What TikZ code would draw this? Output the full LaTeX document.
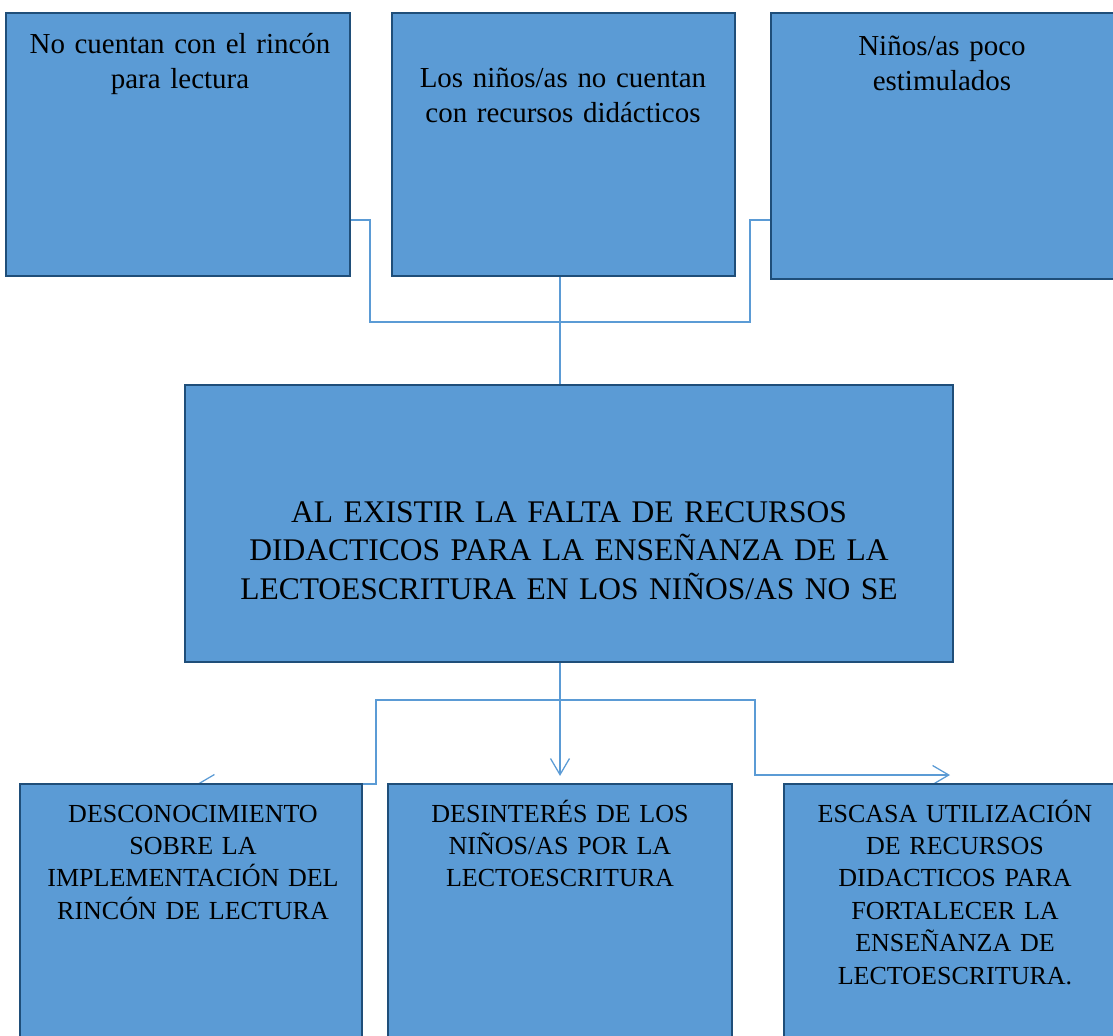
\documentclass[tikz,border=0pt]{standalone}
\usepackage{fontspec}
\setmainfont{Liberation Serif}
\usetikzlibrary{arrows.meta,fit,backgrounds}
\definecolor{relleno}{HTML}{5B9BD5}
\definecolor{borde}{HTML}{1F4E79}
\definecolor{linea}{HTML}{5B9BD5}

\begin{document}
\begin{tikzpicture}[x=0.025cm, y=-0.025cm,
    caja/.style={draw=borde, line width=1.5pt, fill=relleno, inner sep=0pt},
    textocausa/.style={anchor=base, align=center, text width=8.3cm, inner sep=0pt,
        font=\fontsize{20.6}{25.5}\selectfont},
    textoproblema/.style={anchor=base, align=center, text width=20cm, inner sep=0pt,
        font=\fontsize{22.4}{27.4}\selectfont},
    textoefecto/.style={anchor=base, align=center, text width=8.3cm, inner sep=0pt,
        font=\fontsize{18.5}{23.1}\selectfont},
    conector/.style={draw=linea, line width=0.9pt},
    flecha/.style={conector, -{Straight Barb[length=11.5pt, width=13.5pt]}}]
    \useasboundingbox (0,0) rectangle (1113,1035);

    % Causas
    \node[caja, fit={(6,13) (350,276)}] (a) {};
    \node[caja, fit={(392,13) (735,276)}] (b) {};
    \node[caja, fit={(771,13) (1118,279)}] (c) {};
    \node[textocausa] (ta) at (180,53) {No cuentan con el rincón\\para lectura};
    \node[textocausa] (tb) at (563,87) {Los niños/as no cuentan\\con recursos didácticos};
    \node[textocausa] (tc) at (942,55) {Niños/as poco\\estimulados};

    % Problema central
    \node[caja, fit={(185,385) (953,662)}] (centro) {};
    \node[textoproblema] (tcentro) at (569,522) {AL EXISTIR LA FALTA DE RECURSOS\\
        DIDACTICOS PARA LA ENSEÑANZA DE LA\\LECTOESCRITURA EN LOS NIÑOS/AS NO SE};

    % Efectos
    \node[caja, fit={(20,784) (362,1045)}] (d) {};
    \node[caja, fit={(388,784) (732,1045)}] (e) {};
    \node[caja, fit={(784,784) (1118,1045)}] (f) {};
    \node[textoefecto] (td) at (193,822) {DESCONOCIMIENTO\\SOBRE LA\\
        IMPLEMENTACIÓN DEL\\RINCÓN DE LECTURA};
    \node[textoefecto] (te) at (560,822) {DESINTERÉS DE LOS\\NIÑOS/AS POR LA\\LECTOESCRITURA};
    \node[textoefecto] (tf) at (955,822) {ESCASA UTILIZACIÓN\\DE RECURSOS\\
        DIDACTICOS PARA\\FORTALECER LA\\ENSEÑANZA DE\\LECTOESCRITURA.};

    % Conectores
    \coordinate (union) at (560,322);
    \coordinate (ramal) at (560,700);
    \coordinate (puntad) at (197,784);
    \coordinate (puntaf) at (950,775);
    \begin{scope}[on background layer]
        \draw[conector] (a.east |- 0,220) -- (370,220) |- (union) -| (750,220) -- (c.west |- 0,220);
        \draw[conector] (union |- b.south) -- (union |- centro.north);
        \draw[flecha] (ramal |- centro.south) -- ([yshift=5pt]e.north);
        \draw[flecha] (ramal) -| (376,784) -- (puntad);
        \draw[flecha] (ramal) -| (755,775) -- (puntaf);
    \end{scope}
\end{tikzpicture}
\end{document}
